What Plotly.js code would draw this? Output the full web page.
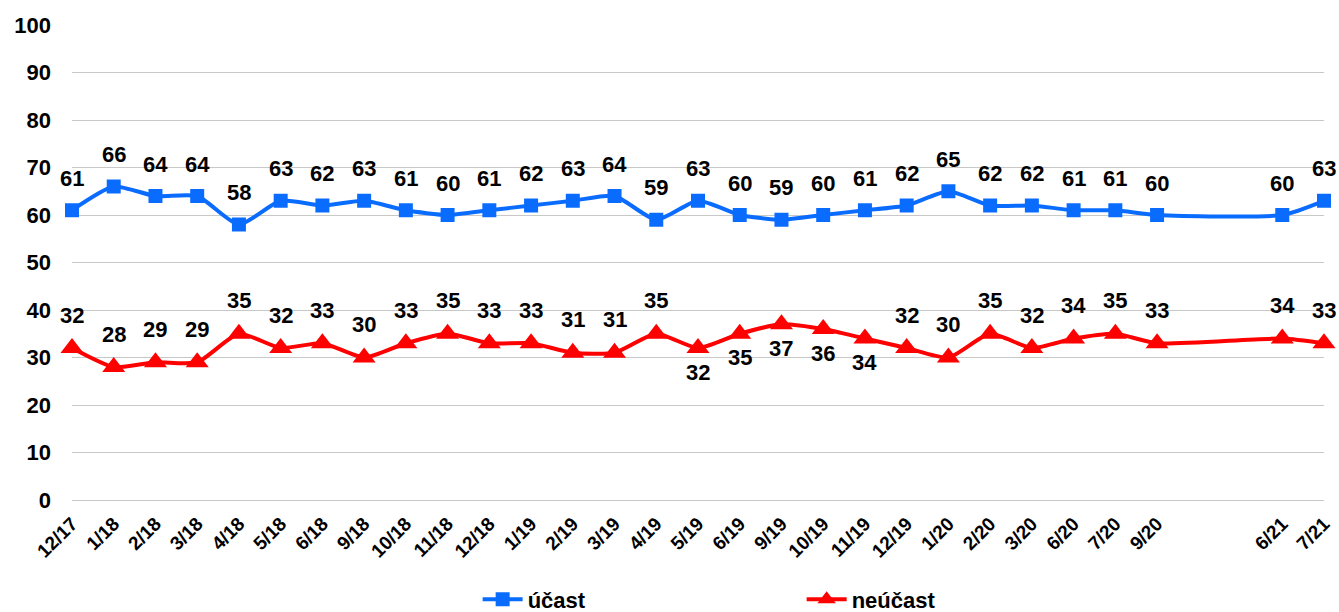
<!DOCTYPE html>
<html><head><meta charset="utf-8">
<script src="https://cdn.plot.ly/plotly-3.0.1.min.js"></script>
<style>html,body{margin:0;padding:0;background:#fff}#chart{width:1339px;height:612px}</style>
</head><body><div id="chart"></div>
<script>
// Survey waves ("" = empty slot on the time axis)
const categories = ["12/17","1/18","2/18","3/18","4/18","5/18","6/18","9/18","10/18","11/18","12/18",
  "1/19","2/19","3/19","4/19","5/19","6/19","9/19","10/19","11/19","12/19",
  "1/20","2/20","3/20","6/20","7/20","9/20","","","6/21","7/21"];
const ucast   = [61,66,64,64,58,63,62,63,61,60,61,62,63,64,59,63,60,59,60,61,62,65,62,62,61,61,60,null,null,60,63];
const neucast = [32,28,29,29,35,32,33,30,33,35,33,33,31,31,35,32,35,37,36,34,32,30,35,32,34,35,33,null,null,34,33];
const seriesNames = ["účast","neúčast"];
const yTicks = [0,10,20,30,40,50,60,70,80,90,100];

const FONT = "Arial, 'Liberation Sans', sans-serif";
const xIdx = categories.map((c,i)=>i);
const tickIdx = xIdx.filter(i=>categories[i]!=="");
const redBelow = new Set(["5/19","6/19","9/19","10/19","11/19"]);

const traces = [
  {x:xIdx, y:ucast, name:seriesNames[0], type:"scatter", mode:"lines+markers", connectgaps:true,
   line:{color:"#0A6CFF", width:4, shape:"spline", smoothing:0.6},
   marker:{symbol:"square", size:14, color:"#0A6CFF"}, cliponaxis:false, hoverinfo:"y"},
  {x:xIdx, y:neucast, name:seriesNames[1], type:"scatter", mode:"lines+markers", connectgaps:true,
   line:{color:"#FF0000", width:4, shape:"spline", smoothing:0.6},
   marker:{symbol:"triangle-up", size:20, color:"#FF0000"}, cliponaxis:false, hoverinfo:"y"}
];

const labelFont = {family:FONT, size:22, color:"#000", weight:"bold"};
const annotations = [];
xIdx.forEach(i=>{
  if (ucast[i]!==null) annotations.push({x:i, y:ucast[i], xref:"x", yref:"y", text:String(ucast[i]),
    showarrow:false, yshift:32, font:labelFont});
  if (neucast[i]!==null) annotations.push({x:i, y:neucast[i], xref:"x", yref:"y", text:String(neucast[i]),
    showarrow:false, yshift: redBelow.has(categories[i]) ? -24 : 33, font:labelFont});
});

const layout = {
  width:1339, height:612,
  margin:{l:72, r:15, t:25, b:112, autoexpand:false},
  paper_bgcolor:"#fff", plot_bgcolor:"#fff",
  font:{family:FONT, color:"#000"},
  showlegend:true,
  legend:{orientation:"h", x:0.324, xanchor:"left", y:-0.165, yanchor:"top",
    font:{family:FONT, size:22, color:"#000", weight:"bold"}, entrywidth:269, entrywidthmode:"pixels",
    itemwidth:40, tracegroupgap:0},
  xaxis:{type:"linear", range:[0,30], tickmode:"array", tickvals:tickIdx, ticktext:tickIdx.map(i=>categories[i]),
    tickangle:-45, showgrid:false, zeroline:false, showline:false, ticks:"", ticklabelstandoff:8, automargin:false,
    tickfont:{family:FONT, size:19, color:"#000", weight:"bold"}, fixedrange:true},
  yaxis:{range:[0,100], tickmode:"array", tickvals:yTicks, showgrid:true, gridcolor:"#C8C8C8", gridwidth:1,
    zeroline:true, zerolinecolor:"#C8C8C8", zerolinewidth:1, showline:false, ticks:"", ticklabelstandoff:20, automargin:false,
    tickfont:{family:FONT, size:22, color:"#000", weight:"bold"}, fixedrange:true},
  annotations:annotations
};

Plotly.newPlot("chart", traces, layout, {displayModeBar:false, staticPlot:true});
</script></body></html>
